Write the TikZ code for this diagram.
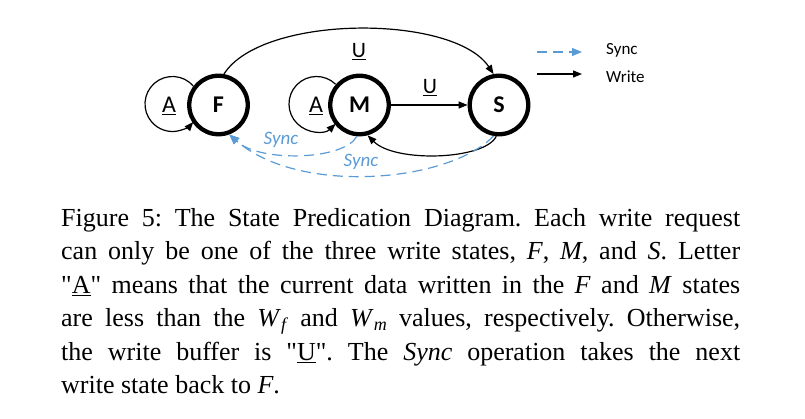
\documentclass[tikz,border=0pt]{standalone}
\usepackage{fontspec}
\setmainfont{Liberation Serif}[Ligatures=TeXOff]
\newfontfamily\diagfont{Carlito}
\usetikzlibrary{arrows.meta}
\definecolor{syncblue}{HTML}{5B9BD5}
\newcommand\sq{\symbol{34}}
\frenchspacing
\begin{document}
\begin{tikzpicture}[x=1pt,y=1pt,
 state/.style={circle, draw, line width=4.3pt, minimum size=58.5pt, inner sep=0pt, fill=white,
   font=\diagfont\fontsize{24}{24}\selectfont\bfseries},
 wr/.style={line width=1.2pt, -{Triangle[length=9pt,width=7pt]}},
 sy/.style={line width=1.2pt, syncblue, dash pattern=on 10pt off 6pt, -{Triangle[length=10pt,width=8pt]}},
 lab/.style={font=\diagfont\fontsize{24}{24}\selectfont, inner sep=0pt},
 ulab/.style={font=\diagfont\fontsize{22}{22}\selectfont, inner sep=0pt},
 slab/.style={font=\diagfont\itshape\fontsize{19}{19}\selectfont, text=syncblue, inner sep=0pt},
 leg/.style={font=\diagfont\fontsize{17}{17}\selectfont, inner sep=0pt, anchor=base west},
 captxt/.style={anchor=base west, inner sep=0pt, font=\fontsize{26}{30}\selectfont}
]
\useasboundingbox (0,0) rectangle (805,418);
% states
\node[state] (F) at (218.5,313) {F};
\node[state] (M) at (359.5,313) {M};
\node[state] (S) at (499,313) {S};
% self loops
\coordinate (cF) at (172.5,314);
\coordinate (cM) at (316.5,314);
\draw[wr] (cF) ++(41:27.5) arc[start angle=41, end angle=319, radius=27.5];
\draw[wr] (cM) ++(46:27.5) arc[start angle=46, end angle=314, radius=27.5];
\node[lab] (aF) at (169,312) {\underline{A}};
\node[lab] (aM) at (316,312) {\underline{A}};
% write transitions
\draw[wr] (F.80) .. controls (262,404) and (454,404) .. (S.100);
\node[ulab] (u1) at (359,366) {\underline{U}};
\draw[wr] (M) -- (S);
\node[ulab] (u2) at (430,330) {\underline{U}};
\draw[wr] (S.265) .. controls (485,258) and (395,255) .. (M.-75);
% sync transitions
\draw[sy] (M.-95) .. controls (345,258) and (260,255) .. (F.-70);
\draw[sy] (S.260) .. controls (450,236) and (300,222) .. (F.-70);
\node[slab] (s1) at (281,278) {Sync};
\node[slab] (s2) at (361,256) {Sync};
% legend
\coordinate (l1a) at (537,366);
\coordinate (l1b) at (582,366);
\coordinate (l2a) at (537,344);
\coordinate (l2b) at (582,344);
\draw[sy] (l1a) -- (l1b);
\draw[wr] (l2a) -- (l2b);
\node[leg] (t1) at (606,363.5) {Sync};
\node[leg] (t2) at (606,335) {Write};
% caption
\node[captxt] (c1) at (61,191.7) {\makebox[679pt][s]{Figure 5: The State Predication Diagram. Each write request}};
\node[captxt] (c2) at (61,158.2) {\makebox[679pt][s]{can only be one of the three write states, \textit{F}, \textit{M}, and \textit{S}. Letter}};
\node[captxt] (c3) at (61,124.7) {\makebox[679pt][s]{\sq\underline{A}\sq{} means that the current data written in the \textit{F} and \textit{M} states}};
\node[captxt] (c4) at (61,91.2) {\makebox[679pt][s]{are less than the \textit{W}\raisebox{-4pt}{\fontsize{18}{18}\selectfont\textit{f}} and \textit{W}\raisebox{-4pt}{\fontsize{18}{18}\selectfont\textit{m}} values, respectively. Otherwise,}};
\node[captxt] (c5) at (61,57.7) {\makebox[679pt][s]{the write buffer is \sq\underline{U}\sq. The \textit{Sync} operation takes the next}};
\node[captxt] (c6) at (61,24.2) {write state back to \textit{F}.};
\end{tikzpicture}
\end{document}
